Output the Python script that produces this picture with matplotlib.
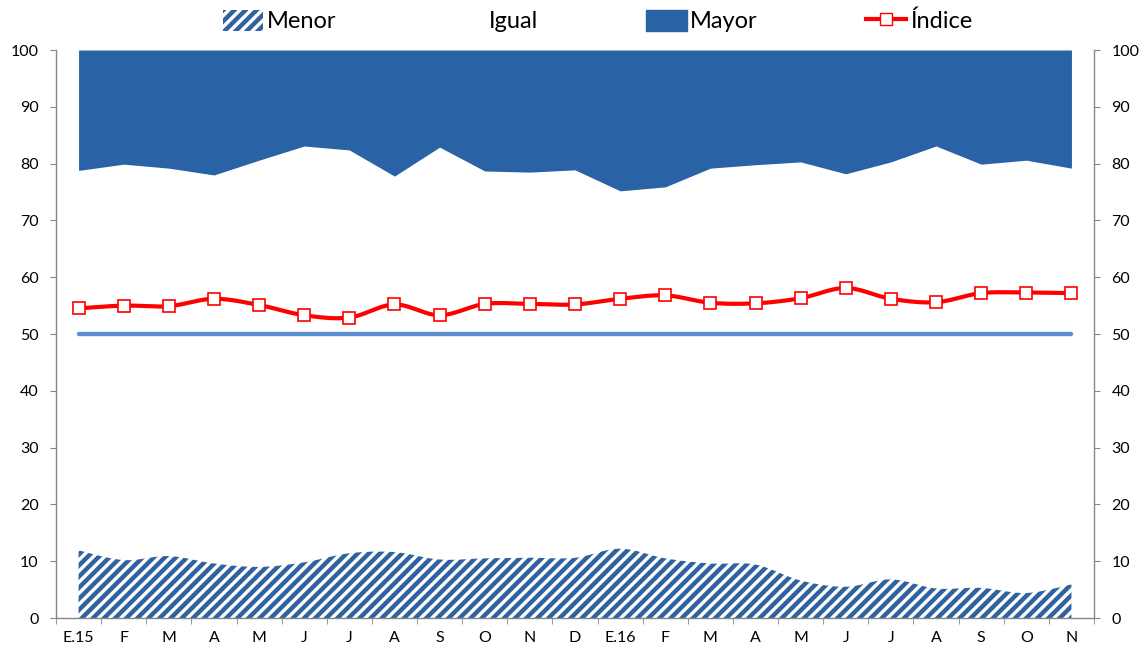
import numpy as np
import matplotlib
matplotlib.use("Agg")
import matplotlib.pyplot as plt
from matplotlib.patches import Patch
from matplotlib.lines import Line2D

categories = ["E.15", "F", "M", "A", "M", "J", "J", "A", "S", "O", "N", "D",
              "E.16", "F", "M", "A", "M", "J", "J", "A", "S", "O", "N"]
menor = [11.9, 10.2, 10.9, 9.6, 9.0, 9.8, 11.4, 11.6, 10.3, 10.5, 10.6, 10.6,
         12.2, 10.5, 9.6, 9.4, 6.6, 5.5, 6.8, 5.2, 5.3, 4.4, 5.9]
igual_top = [78.8, 79.9, 79.2, 78.0, 80.6, 83.1, 82.4, 77.8, 82.9, 78.7, 78.5, 78.9,
             75.2, 75.9, 79.2, 79.8, 80.3, 78.2, 80.3, 83.1, 79.9, 80.6, 79.2]
indice = [54.5, 55.0, 54.9, 56.2, 55.1, 53.3, 52.9, 55.2, 53.3, 55.3, 55.3, 55.2,
          56.2, 56.8, 55.5, 55.4, 56.3, 58.1, 56.2, 55.6, 57.2, 57.3, 57.2]
referencia = 50

plt.rcParams['font.family'] = ['Lato', 'DejaVu Sans']
plt.rcParams['hatch.linewidth'] = 3.2


def smooth(y, n=24):
    """Catmull-Rom (Excel-like) smoothing through the data points."""
    y = np.asarray(y, float)
    x = np.arange(len(y), dtype=float)
    px = np.concatenate([[x[0]], x, [x[-1]]])
    py = np.concatenate([[y[0]], y, [y[-1]]])
    xs, ys = [], []
    for i in range(1, len(px) - 2):
        p0, p1, p2, p3 = (np.array([px[j], py[j]]) for j in (i - 1, i, i + 1, i + 2))
        c1 = p1 + (p2 - p0) / 6
        c2 = p2 - (p3 - p1) / 6
        t = np.linspace(0, 1, n, endpoint=(i == len(px) - 3))[:, None]
        pts = ((1 - t) ** 3) * p1 + 3 * ((1 - t) ** 2) * t * c1 + 3 * (1 - t) * t ** 2 * c2 + t ** 3 * p2
        xs.append(pts[:, 0]); ys.append(pts[:, 1])
    return np.concatenate(xs), np.concatenate(ys)


fig = plt.figure(figsize=(11.45, 6.55), dpi=100)
ax = fig.add_axes([56 / 1145, 37 / 655, 1038 / 1145, 568 / 655])

x = np.arange(len(categories))
blue = "#2962A5"
hatch_blue = "#2F629F"

# Mayor (top area)
ax.fill_between(x, igual_top, 100, color=blue, linewidth=0, zorder=1)

# Menor (hatched, smoothed)
sx, sy = smooth(menor)
ax.fill_between(sx, 0, sy, facecolor="white", edgecolor=hatch_blue, hatch="///",
                linewidth=0, zorder=2)

# reference line at 50
ax.plot([x[0], x[-1]], [referencia, referencia], color="#5B8ED4", lw=3.2,
        solid_capstyle="round", zorder=3)

# Índice
ix, iy = smooth(indice)
ax.plot(ix, iy, color="#FF0000", lw=3, zorder=4)
ax.plot(x, indice, linestyle="none", marker="s", markersize=9,
        markerfacecolor="white", markeredgecolor="#FF0000", markeredgewidth=1.2, zorder=5)

ax.set_xlim(-0.5, len(categories) - 0.5)
ax.set_ylim(0, 100)
ax.set_yticks(np.arange(0, 101, 10))
ax.tick_params(axis="y", labelsize=11.5, length=4.5, color="#888888", direction="out",
               right=True, labelright=True, pad=8)
ax.set_xticks(x)
ax.set_xticklabels(categories, fontsize=11.5)
ax.set_xticks(np.arange(-0.5, len(categories), 1), minor=True)
ax.tick_params(axis="x", which="major", length=0, pad=9)
ax.tick_params(axis="x", which="minor", length=4.5, color="#888888")
ax.spines["top"].set_visible(False)
for s in ("left", "right", "bottom"):
    ax.spines[s].set_color("#888888")
    ax.spines[s].set_linewidth(1)

handles = [
    Patch(facecolor="white", edgecolor=hatch_blue, hatch="///", linewidth=0),
    Patch(facecolor="white", edgecolor="white", linewidth=0),
    Patch(facecolor=blue, edgecolor=blue),
    Line2D([0], [0], color="#FF0000", lw=3, marker="s", markersize=8,
           markerfacecolor="white", markeredgecolor="#FF0000"),
]
fig.legend(handles, ["Menor", "Igual", "Mayor", "Índice"], loc="center",
           bbox_to_anchor=(0.522, 0.968), ncol=4, frameon=False, fontsize=17,
           handlelength=1.7, handleheight=1.0, handletextpad=0.15, columnspacing=4.6)

fig.savefig("out.png", dpi=100)
